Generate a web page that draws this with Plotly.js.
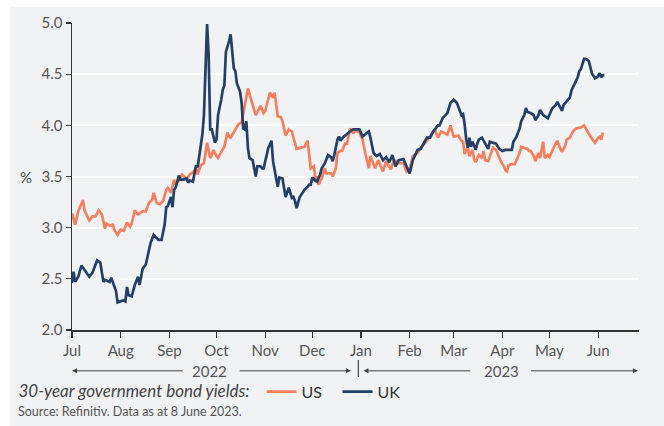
<!DOCTYPE html>
<html>
<head>
<meta charset="utf-8">
<script src="https://cdn.plot.ly/plotly-3.0.1.min.js"></script>
<style>
  html, body { margin: 0; padding: 0; background: #fff; }
  #chart { width: 664px; height: 426px; }
</style>
</head>
<body>
<div id="chart"></div>
<script>
// days counted from 1 July 2022
const startDate = Date.UTC(2022, 6, 1);

const usDays = [0,2,4,7,8,11,13,15,17,19,21,22,24,26,27,29,31,33,35,37,
  38,40,42,45,47,49,51,52,54,56,58,60,61,63,65,66,68,70,72,73,
  75,77,79,80,82,84,86,88,89,90,92,93,95,97,99,100,101,104,106,108,
  110,112,115,117,120,122,123,124,126,128,129,131,133,134,136,138,140,141,143,145,
  148,150,151,152,154,155,156,157,159,161,162,165,166,168,169,171,172,174,175,176,
  177,179,180,183,185,187,189,190,193,195,198,200,203,205,208,211,213,215,217,220,
  222,225,228,231,233,235,239,241,243,246,248,249,250,252,253,255,256,257,259,261,
  262,263,265,267,268,270,272,273,275,276,277,278,280,282,283,285,286,288,290,291,
  292,294,295,297,298,300,301,303,304,306,308,309,311,312,314,315,317,319,321,323,
  324,326,327,329,331,333,335,336,337,338];
const usYield = [3.14,3.03,3.16,3.27,3.17,3.07,3.11,3.11,3.17,3.13,2.99,3.04,3.02,3.03,2.98,2.93,2.98,2.97,3.05,3.01,
  3.04,3.17,3.13,3.16,3.16,3.24,3.27,3.34,3.24,3.23,3.26,3.37,3.39,3.34,3.47,3.42,3.46,3.52,3.49,3.47,
  3.52,3.54,3.58,3.52,3.61,3.63,3.83,3.68,3.71,3.76,3.70,3.68,3.74,3.79,3.93,3.89,3.88,3.96,4.01,4.03,
  4.20,4.36,4.20,4.10,4.19,4.12,4.14,4.20,4.32,4.27,4.32,4.09,4.08,4.04,3.90,3.96,3.94,3.88,3.77,3.78,
  3.79,3.85,3.73,3.58,3.60,3.48,3.50,3.42,3.48,3.58,3.53,3.53,3.50,3.58,3.73,3.75,3.75,3.83,3.81,3.91,
  3.97,3.92,3.95,3.93,3.86,3.71,3.58,3.70,3.58,3.66,3.55,3.65,3.57,3.66,3.63,3.63,3.55,3.57,3.70,3.73,
  3.78,3.83,3.89,3.96,3.88,3.94,3.91,4.00,3.89,3.90,3.85,3.84,3.72,3.78,3.70,3.76,3.67,3.64,3.71,3.68,
  3.75,3.66,3.65,3.75,3.78,3.76,3.68,3.65,3.60,3.56,3.55,3.61,3.62,3.62,3.66,3.73,3.79,3.78,3.77,3.75,
  3.75,3.70,3.65,3.73,3.68,3.84,3.68,3.71,3.69,3.76,3.83,3.85,3.77,3.74,3.80,3.86,3.88,3.94,3.97,3.98,
  3.98,4.00,3.97,3.92,3.87,3.83,3.88,3.89,3.86,3.93];

const ukDays = [0,1,2,4,6,8,11,13,16,18,20,21,24,25,27,28,29,31,33,34,
  35,36,38,40,42,43,45,47,49,50,52,55,57,59,60,61,63,64,65,66,
  68,69,71,73,74,75,77,79,80,81,83,84,85,86,87,88,89,91,92,93,
  95,96,97,98,100,101,103,104,105,107,108,109,110,111,112,113,114,115,117,118,
  120,121,122,124,125,127,128,130,131,132,134,136,138,140,141,142,143,145,147,148,
  150,151,152,153,155,156,158,159,161,163,165,166,167,169,170,171,173,175,177,179,
  181,183,185,187,189,190,192,194,196,198,200,202,204,206,208,211,213,215,217,220,
  222,224,226,228,230,233,234,236,239,241,243,245,247,248,249,250,251,252,253,254,
  255,257,258,259,261,263,265,266,268,270,272,274,276,278,280,281,283,285,286,288,
  289,290,292,294,295,297,298,300,301,303,305,306,308,309,311,312,313,315,317,318,
  320,322,323,324,326,327,329,330,331,333,335,336,337,338,339];
const ukYield = [2.46,2.57,2.47,2.52,2.63,2.59,2.52,2.56,2.68,2.66,2.47,2.49,2.47,2.51,2.41,2.38,2.27,2.28,2.29,2.28,
  2.42,2.34,2.33,2.44,2.52,2.44,2.60,2.64,2.77,2.85,2.93,2.88,2.88,3.03,3.20,3.21,3.30,3.20,3.37,3.39,
  3.51,3.47,3.47,3.48,3.44,3.46,3.45,3.61,3.59,3.71,3.91,4.10,4.56,4.99,4.69,3.96,3.96,3.83,3.86,4.10,
  4.25,4.35,4.39,4.72,4.82,4.89,4.56,4.53,4.41,4.33,4.22,3.97,3.96,4.04,3.78,3.68,3.67,3.66,3.50,3.60,
  3.60,3.58,3.58,3.73,3.78,3.85,3.65,3.48,3.40,3.49,3.48,3.30,3.39,3.29,3.30,3.26,3.19,3.30,3.35,3.37,
  3.40,3.42,3.42,3.49,3.46,3.45,3.52,3.58,3.63,3.71,3.69,3.65,3.71,3.86,3.89,3.85,3.89,3.92,3.94,3.96,
  3.96,3.96,3.89,3.92,3.94,3.88,3.73,3.70,3.72,3.66,3.69,3.64,3.71,3.60,3.66,3.67,3.60,3.53,3.66,3.76,
  3.77,3.83,3.88,3.88,3.94,4.00,4.00,4.07,4.12,4.22,4.25,4.22,4.14,4.10,4.11,4.01,3.86,3.78,3.88,3.79,
  3.84,3.76,3.82,3.86,3.88,3.82,3.77,3.84,3.83,3.82,3.77,3.75,3.76,3.76,3.76,3.84,3.89,3.97,4.04,4.10,
  4.17,4.13,4.12,4.10,4.05,4.10,4.15,4.10,4.09,4.07,4.14,4.17,4.20,4.23,4.17,4.14,4.20,4.24,4.27,4.34,
  4.41,4.47,4.53,4.55,4.65,4.65,4.63,4.56,4.51,4.46,4.48,4.51,4.47,4.49,4.49];

const yearLabels = ['2022', '2023'];
const seriesNames = ['US', 'UK'];
const seriesColors = ['#f4805f', '#253f66'];

const toDate = d => new Date(startDate + d * 86400000).toISOString().slice(0, 10);

const font = 'Lato, sans-serif';
const arrowColor = '#444';

const traces = [
  { x: usDays.map(toDate), y: usYield, name: seriesNames[0] },
  { x: ukDays.map(toDate), y: ukYield, name: seriesNames[1] }
].map((t, i) => Object.assign(t, {
  type: 'scatter',
  mode: 'lines',
  line: { color: seriesColors[i], width: 2.7 },
  hoverinfo: 'skip'
}));

// year arrows under the month labels (paper x positions)
const yearRowY = -0.133;
const arrow = (head, tail) => ({
  xref: 'paper', yref: 'paper', x: head, y: yearRowY,
  ax: (tail - head) * 567, ay: 0, axref: 'pixel', ayref: 'pixel',
  text: '', showarrow: true, arrowhead: 2, arrowsize: 1, arrowwidth: 1,
  arrowcolor: arrowColor, standoff: 0, startstandoff: 0
});

const layout = {
  width: 664,
  height: 426,
  margin: { l: 72, r: 25, t: 23, b: 96 },
  paper_bgcolor: '#ffffff',
  plot_bgcolor: 'rgba(0,0,0,0)',
  font: { family: font, color: '#555' },
  showlegend: true,
  legend: {
    orientation: 'h',
    x: -0.098, xanchor: 'left',
    y: -0.201, yanchor: 'middle',
    bgcolor: 'rgba(0,0,0,0)',
    entrywidth: 31,
    entrywidthmode: 'pixels',
    font: { size: 16, color: '#333', family: font },
    title: {
      text: '30-year government bond yields: ',
      side: 'left',
      font: { size: 17, color: '#444', family: font, style: 'italic' }
    }
  },
  xaxis: {
    type: 'date',
    range: ['2022-07-01', '2023-06-27'],
    tick0: '2022-07-01',
    dtick: 'M1',
    tickformat: '%b',
    ticks: 'outside',
    ticklen: 6,
    tickwidth: 1.2,
    tickcolor: '#333',
    showline: true,
    linecolor: '#333',
    linewidth: 1.5,
    showgrid: false,
    zeroline: false,
    tickfont: { size: 15, color: '#555', family: font }
  },
  yaxis: {
    range: [2, 5],
    dtick: 0.5,
    tickformat: '.1f',
    ticks: 'outside',
    ticklen: 5,
    tickwidth: 1.2,
    tickcolor: '#333',
    showline: true,
    linecolor: '#333',
    linewidth: 1.5,
    showgrid: true,
    gridcolor: '#ffffff',
    gridwidth: 2,
    zeroline: false,
    tickfont: { size: 15, color: '#555', family: font }
  },
  shapes: [
    { type: 'rect', layer: 'below', xref: 'paper', yref: 'paper',
      x0: -0.109, x1: 1.05, y0: -0.35, y1: 1.052,
      fillcolor: '#f1f2f4', line: { width: 0 } },
    { type: 'line', xref: 'paper', yref: 'paper',
      x0: 0.505, x1: 0.505, y0: -0.098, y1: -0.153,
      line: { color: arrowColor, width: 1.2 } }
  ],
  annotations: [
    { xref: 'paper', yref: 'y', x: -0.081, y: 3.5, text: '%', showarrow: false,
      xanchor: 'center', yanchor: 'middle', font: { size: 15, color: '#444' } },
    { xref: 'paper', yref: 'paper', x: 0.243, y: yearRowY, text: yearLabels[0],
      showarrow: false, xanchor: 'center', yanchor: 'middle', font: { size: 15, color: '#555' } },
    { xref: 'paper', yref: 'paper', x: 0.758, y: yearRowY, text: yearLabels[1],
      showarrow: false, xanchor: 'center', yanchor: 'middle', font: { size: 15, color: '#555' } },
    arrow(0, 0.198),
    arrow(0.492, 0.293),
    arrow(0.514, 0.705),
    arrow(0.998, 0.807),
    { xref: 'paper', yref: 'paper', x: -0.099, y: -0.266, text: 'Source: Refinitiv. Data as at 8 June 2023.',
      showarrow: false, xanchor: 'left', yanchor: 'middle', font: { size: 12.5, color: '#555' } }
  ]
};

Plotly.newPlot('chart', traces, layout, { staticPlot: true, displayModeBar: false });
</script>
</body>
</html>
